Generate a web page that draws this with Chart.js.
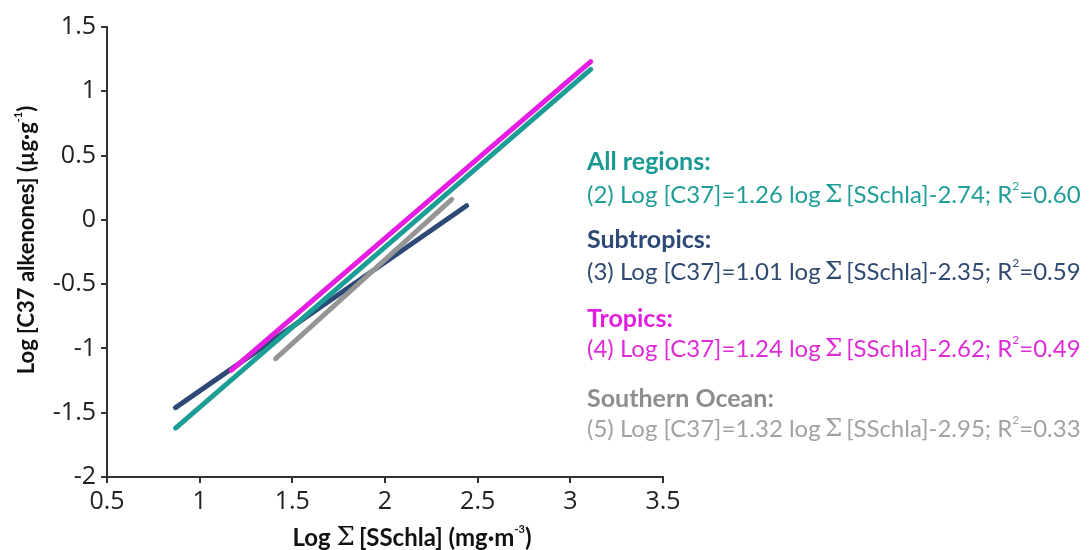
<!DOCTYPE html>
<html>
<head>
<meta charset="utf-8">
<script src="https://cdn.jsdelivr.net/npm/chart.js@4.4.0/dist/chart.umd.min.js"></script>
<style>
    html, body { margin: 0; padding: 0; background: #fff; }
    #wrap { width: 1090px; height: 550px; position: relative; }
</style>
</head>
<body>
<div id="wrap"><canvas id="chart"></canvas></div>
<script>
// Axis ticks
const xTicks = [0.5, 1, 1.5, 2, 2.5, 3, 3.5];
const yTicks = [-2, -1.5, -1, -0.5, 0, 0.5, 1, 1.5];

// Regressions
const regions = ['All regions', 'Subtropics', 'Tropics', 'Southern Ocean'];
const eqNumbers = ['(2)', '(3)', '(4)', '(5)'];
const slopes = ['1.26', '1.01', '1.24', '1.32'];
const intercepts = ['-2.74', '-2.35', '-2.62', '-2.95'];
const r2 = ['0.60', '0.59', '0.49', '0.33'];

// Fitted line end points
const lineX = [[0.87, 3.11], [0.87, 2.44], [1.17, 3.11], [1.41, 2.36]];
const lineY = [[-1.62, 1.17], [-1.46, 0.11], [-1.17, 1.23], [-1.08, 0.16]];

const lineColors = ['#1c9d96', '#2c4a75', '#e61ee2', '#959595'];
const headColors = ['#1a9992', '#2c4a75', '#e21ede', '#8e8e8e'];
const eqColors = ['#1f9d97', '#2f4a70', '#e02ad8', '#a2a2a2'];
const drawOrder = [1, 3, 0, 2]; // magenta on top, navy at the bottom

const axisColor = '#333';
const serif = '"DejaVu Serif", serif';
const sans = 'Lato, "Open Sans", sans-serif';

// draws runs of text with different fonts one after another
function drawRuns(ctx, runs, x, y) {
    runs.forEach(r => {
        ctx.font = r.font;
        ctx.fillText(r.text, x, y + (r.dy || 0));
        x += ctx.measureText(r.text).width + (r.gap || 0);
    });
    return x;
}
function runsWidth(ctx, runs) {
    let w = 0;
    runs.forEach(r => { ctx.font = r.font; w += ctx.measureText(r.text).width + (r.gap || 0); });
    return w;
}

const textPlugin = {
    id: 'texts',
    afterDraw(chart) {
        const ctx = chart.ctx;
        ctx.save();
        ctx.textBaseline = 'middle';
        ctx.textAlign = 'left';

        // x axis title
        const xb = 'bold 24px ' + sans;
        const xRuns = [
            { text: 'Log ', font: xb },
            { text: '\u03A3', font: '26px ' + serif, gap: 4 },
            { text: '[SSchla] (mg\u00B7m', font: xb },
            { text: '-3', font: 'bold 11px ' + sans, dy: -9 },
            { text: ')', font: xb }
        ];
        ctx.fillStyle = '#111';
        const xw = runsWidth(ctx, xRuns);
        drawRuns(ctx, xRuns, 412 - xw / 2, 538);

        // y axis title
        const yb = 'bold 22px ' + sans;
        const yRuns = [
            { text: 'Log [C37 alkenones] (\u00B5g\u00B7g', font: yb },
            { text: '-1', font: 'bold 11px ' + sans, dy: -9 },
            { text: ')', font: yb }
        ];
        ctx.save();
        ctx.translate(27, 240);
        ctx.rotate(-Math.PI / 2);
        const yw = runsWidth(ctx, yRuns);
        drawRuns(ctx, yRuns, -yw / 2, 0);
        ctx.restore();

        // equations
        const headY = [162, 240, 319, 399];
        const eqY = [195, 272, 349, 429];
        const left = 587;
        const eqFont = '24px ' + sans;
        regions.forEach((name, i) => {
            ctx.fillStyle = headColors[i];
            ctx.font = 'bold 25px ' + sans;
            ctx.fillText(name + ':', left, headY[i]);

            ctx.fillStyle = eqColors[i];
            drawRuns(ctx, [
                { text: eqNumbers[i] + ' Log [C37]=' + slopes[i] + ' log', font: eqFont, gap: 4 },
                { text: '\u03A3', font: '25px ' + serif, gap: 4 },
                { text: '[SSchla]' + intercepts[i] + '; R', font: eqFont },
                { text: '2', font: '12px ' + sans, dy: -9 },
                { text: '=' + r2[i], font: eqFont }
            ], left, eqY[i]);
        });
        ctx.restore();
    }
};

const datasets = regions.map((name, i) => ({
    label: name,
    data: lineX[i].map((x, j) => ({ x: x, y: lineY[i][j] })),
    showLine: true,
    borderColor: lineColors[i],
    backgroundColor: lineColors[i],
    borderWidth: 5,
    borderCapStyle: 'round',
    pointRadius: 0,
    order: drawOrder[i]
}));

const tickFont = { family: '"Open Sans", sans-serif', size: 25 };

new Chart(document.getElementById('chart'), {
    type: 'scatter',
    data: { datasets: datasets },
    options: {
        responsive: true,
        maintainAspectRatio: false,
        animation: false,
        layout: { padding: { left: 0, right: 427, top: 27, bottom: 0 } },
        plugins: {
            legend: { display: false },
            tooltip: { enabled: false }
        },
        scales: {
            x: {
                type: 'linear',
                min: xTicks[0],
                max: xTicks[xTicks.length - 1],
                afterBuildTicks: s => { s.ticks = xTicks.map(v => ({ value: v })); },
                afterFit: s => { s.height = 73; },
                ticks: { color: '#222', font: tickFont, padding: 4, maxRotation: 0, callback: v => String(v) },
                grid: { drawOnChartArea: false, drawTicks: true, tickLength: 6, color: axisColor, lineWidth: 2 },
                border: { display: true, color: axisColor, width: 2 }
            },
            y: {
                type: 'linear',
                min: yTicks[0],
                max: yTicks[yTicks.length - 1],
                afterBuildTicks: s => { s.ticks = yTicks.map(v => ({ value: v })); },
                afterFit: s => { s.width = 107; },
                ticks: { color: '#222', font: tickFont, padding: 5, callback: v => String(v) },
                grid: { drawOnChartArea: false, drawTicks: true, tickLength: 6, color: axisColor, lineWidth: 2 },
                border: { display: true, color: axisColor, width: 2 }
            }
        }
    },
    plugins: [textPlugin]
});
</script>
</body>
</html>
